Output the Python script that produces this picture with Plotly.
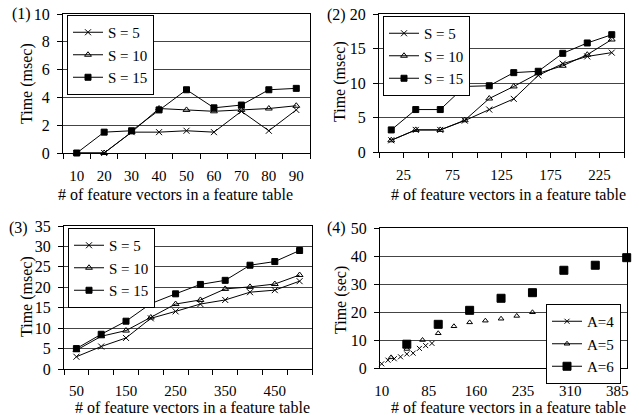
import plotly.graph_objects as go

W, H = 639, 415
FONT = "Liberation Serif, Times New Roman, Times, serif"

# ---------------- data ----------------
# Panel 1
p1_x = [10, 20, 30, 40, 50, 60, 70, 80, 90]
p1_s5 = [0, 0, 1.5, 1.5, 1.6, 1.5, 3.0, 1.6, 3.1]
p1_s10 = [0, 0, 1.5, 3.2, 3.1, 3.0, 3.1, 3.2, 3.4]
p1_s15 = [0, 1.5, 1.6, 3.1, 4.55, 3.25, 3.45, 4.55, 4.65]
p1_ticklabels = ["10", "20", "30", "40", "50", "60", "70", "80", "90"]

# Panel 2
p2_x = [25, 50, 75, 100, 125, 150, 175, 200, 225, 250]
p2_s5 = [1.7, 3.2, 3.2, 4.55, 6.15, 7.7, 11.1, 12.8, 13.85, 14.4]
p2_s10 = [1.7, 3.2, 3.2, 4.6, 7.75, 9.5, 11.4, 12.5, 14.1, 16.3]
p2_s15 = [3.2, 6.15, 6.15, 9.5, 9.6, 11.5, 11.7, 14.3, 15.8, 17.0]
p2_ticklabels = ["25", "75", "125", "175", "225"]

# Panel 3
p3_x = [50, 100, 150, 200, 250, 300, 350, 400, 450, 500]
p3_s5 = [3.0, 5.5, 7.6, 12.4, 14.1, 15.9, 16.9, 18.8, 19.3, 21.5]
p3_s10 = [4.6, 8.0, 9.4, 12.6, 15.9, 16.9, 19.6, 20.1, 20.8, 23.0]
p3_s15 = [5.0, 8.5, 11.7, 16.0, 18.4, 20.7, 21.7, 25.4, 26.3, 29.0]
p3_ticklabels = ["50", "150", "250", "350", "450"]

# Panel 4
p4_a4_x = [10, 20, 30, 40, 50, 60, 70, 80, 90]
p4_a4_y = [1.5, 2.8, 3.3, 4.0, 5.0, 5.3, 7.0, 8.0, 8.8]
p4_a5_x = [25, 50, 75, 100, 125, 150, 175, 200, 225, 250]
p4_a5_y = [3.8, 6.8, 10.0, 12.4, 14.9, 16.3, 16.9, 17.6, 18.6, 19.9]
p4_a6_x = [50, 100, 150, 200, 250, 300, 350, 400]
p4_a6_y = [8.5, 15.6, 20.6, 24.9, 26.9, 34.9, 36.7, 39.4]
p4_ticklabels = ["10", "85", "160", "235", "310", "385"]

S_names = ["S = 5", "S = 10", "S = 15"]
A_names = ["A=4", "A=5", "A=6"]

# ---------------- layout helpers ----------------
def xd(l, r):
    return [l / W, r / W]

def yd(top, bottom):
    return [1 - bottom / H, 1 - top / H]

panels = {
    1: dict(x=xd(63, 310), y=yd(14, 153)),
    2: dict(x=xd(379, 624), y=yd(14, 152)),
    3: dict(x=xd(64, 312), y=yd(226, 369)),
    4: dict(x=xd(380, 627), y=yd(228, 368)),
}

fig = go.Figure()

sym = ["x-thin-open", "triangle-up-open", "square"]
msize = [6, 6, 6]


def add_series(i, xs, ys_list, names, legend):
    xa = "x" if i == 1 else f"x{i}"
    ya = "y" if i == 1 else f"y{i}"
    for k, (ys, nm) in enumerate(zip(ys_list, names)):
        fig.add_trace(go.Scatter(
            x=xs, y=ys, name=nm, mode="lines+markers", xaxis=xa, yaxis=ya,
            line=dict(color="black", width=1),
            marker=dict(symbol=sym[k], size=msize[k], color="black",
                        line=dict(color="black", width=1)),
            legend=legend, cliponaxis=False,
        ))


add_series(1, p1_x, [p1_s5, p1_s10, p1_s15], S_names, "legend")
add_series(2, p2_x, [p2_s5, p2_s10, p2_s15], S_names, "legend2")
add_series(3, p3_x, [p3_s5, p3_s10, p3_s15], S_names, "legend3")

# Panel 4: markers only on the plot, line+marker in the legend
p4_data = [(p4_a4_x, p4_a4_y), (p4_a5_x, p4_a5_y), (p4_a6_x, p4_a6_y)]
p4_size = [5, 5, 8]
for k, ((xs, ys), nm) in enumerate(zip(p4_data, A_names)):
    fig.add_trace(go.Scatter(
        x=xs, y=ys, name=nm, mode="markers", xaxis="x4", yaxis="y4",
        marker=dict(symbol=sym[k], size=p4_size[k], color="black",
                    line=dict(color="black", width=1)),
        showlegend=False, cliponaxis=False,
    ))
    fig.add_trace(go.Scatter(
        x=[None], y=[None], name=nm, mode="lines+markers", xaxis="x4", yaxis="y4",
        line=dict(color="black", width=1),
        marker=dict(symbol=sym[k], size=p4_size[k], color="black",
                    line=dict(color="black", width=1)),
        legend="legend4",
    ))

ytickfont = dict(family=FONT, size=16, color="black")
xtickfont = dict(family=FONT, size=15, color="black")

def xaxis_cfg(i, rng, tickvals, ticktext, minor=None, standoff=9):
    d = dict(domain=panels[i]["x"], range=rng, tickmode="array",
             tickvals=tickvals, ticktext=ticktext, ticks="",
             showline=True, mirror=True, linecolor="black", linewidth=1,
             showgrid=False, zeroline=False, tickfont=xtickfont,
             ticklabelstandoff=standoff, automargin=False,
             anchor="y" if i == 1 else f"y{i}")
    if minor:
        d["minor"] = minor
    return d

def yaxis_cfg(i, rng, dtick):
    return dict(domain=panels[i]["y"], range=rng, dtick=dtick, tick0=0,
                tickmode="linear",
                ticks="outside", ticklen=5, tickcolor="black",
                showline=True, mirror=True, linecolor="black", linewidth=1,
                showgrid=True, gridcolor="#444", gridwidth=1,
                zeroline=False, tickfont=ytickfont, ticklabelstandoff=4,
                automargin=False,
                anchor="x" if i == 1 else f"x{i}")

p2_tickpos = [v + 12.5 for v in p2_x[0::2]]

minor_style = dict(ticks="outside", ticklen=5, tickcolor="black", showgrid=False)

fig.update_layout(
    template="none",
    width=W, height=H, margin=dict(l=0, r=0, t=0, b=0, autoexpand=False),
    paper_bgcolor="white", plot_bgcolor="white",
    font=dict(family=FONT, size=16, color="black"),
    xaxis=xaxis_cfg(1, [5, 95], p1_x, p1_ticklabels,
                    dict(tick0=5, dtick=10, **minor_style)),
    xaxis2=xaxis_cfg(2, [12.5, 262.5], p2_tickpos, p2_ticklabels,
                     dict(tick0=12.5, dtick=25, **minor_style)),
    xaxis3=xaxis_cfg(3, [25, 525], p3_x[0::2], p3_ticklabels,
                     dict(tick0=25, dtick=50, **minor_style), standoff=8),
    xaxis4=xaxis_cfg(4, [7.3, 400.5], [int(t) for t in p4_ticklabels], p4_ticklabels,
                     standoff=9),
    yaxis=yaxis_cfg(1, [0, 10], 2),
    yaxis2=yaxis_cfg(2, [0, 20], 5),
    yaxis3=yaxis_cfg(3, [0, 35], 5),
    yaxis4=yaxis_cfg(4, [0, 50], 10),
)

def legend_cfg(left, top, anchor="left"):
    return dict(x=left / W, y=1 - top / H, xanchor=anchor, yanchor="top",
                bgcolor="white", bordercolor="black", borderwidth=1,
                font=dict(family=FONT, size=15, color="black"),
                itemwidth=30, tracegroupgap=0)

fig.update_layout(
    legend=legend_cfg(67, 15),
    legend2=legend_cfg(383, 16),
    legend3=legend_cfg(68, 228),
    legend4=legend_cfg(621, 304, "right"),
)

ann = []
xt = "# of feature vectors in a feature table"
for cx, cy in [(175, 194), (508, 194), (192, 407), (508, 407)]:
    ann.append(dict(x=cx / W, y=1 - cy / H, xref="paper", yref="paper", text=xt,
                    xanchor="center", yanchor="middle",
                    showarrow=False, font=dict(family=FONT, size=16)))
for cx, cy, t in [(27, 84, "Time (msec)"), (340, 82, "Time (msec)"),
                  (27, 297, "Time (msec)"), (341, 300, "Time (sec)")]:
    ann.append(dict(x=cx / W, y=1 - cy / H, xref="paper", yref="paper", text=t,
                    xanchor="center", yanchor="middle",
                    textangle=-90, showarrow=False, font=dict(family=FONT, size=16)))
for cx, cy, t in [(21, 14, "(1)"), (337, 15, "(2)"), (18, 228, "(3)"), (337, 228, "(4)")]:
    ann.append(dict(x=cx / W, y=1 - cy / H, xref="paper", yref="paper", text=t,
                    xanchor="center", yanchor="middle",
                    showarrow=False, font=dict(family=FONT, size=16)))
fig.update_layout(annotations=ann)

fig.write_html("out.html", config={"displayModeBar": False},
               post_script="document.body.style.margin='0px';")
